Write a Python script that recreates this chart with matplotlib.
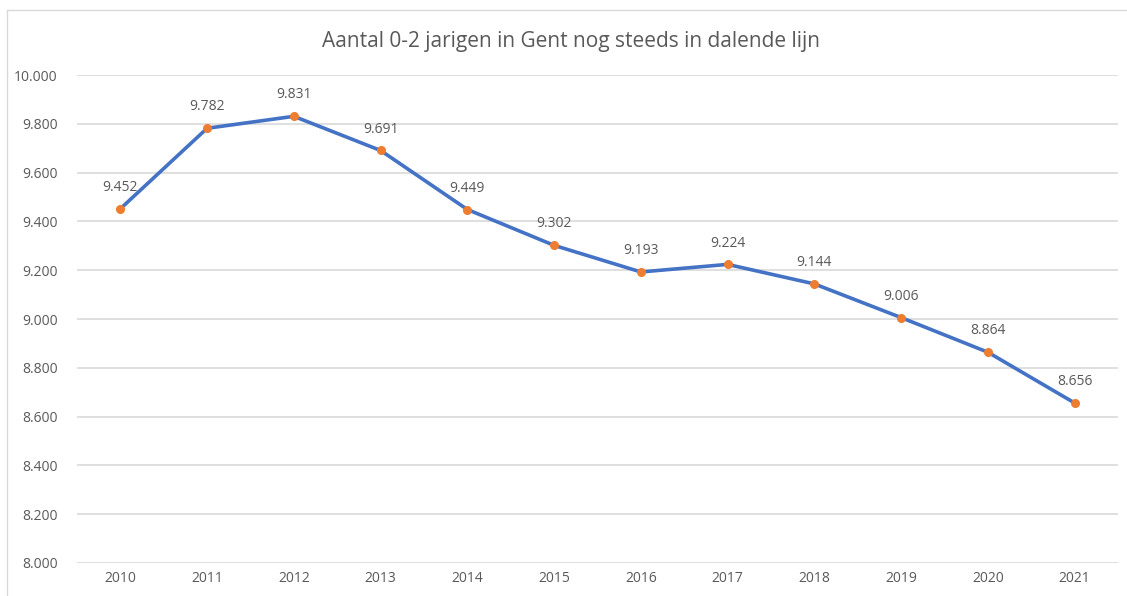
import matplotlib.pyplot as plt
from matplotlib.lines import Line2D

# gegevens
jaren = ['2010', '2011', '2012', '2013', '2014', '2015', '2016', '2017', '2018', '2019', '2020', '2021']
aantal = [9452, 9782, 9831, 9691, 9449, 9302, 9193, 9224, 9144, 9006, 8864, 8656]

def formatteer(v):
    # duizendtal met punt, zoals in het origineel
    return f'{v:,.0f}'.replace(',', '.')

plt.rcParams['font.family'] = ['Open Sans', 'DejaVu Sans']
grijs = '#595959'

fig = plt.figure(figsize=(11.27, 5.96), dpi=100)
ax = fig.add_axes([0.0683, 0.0554, 0.9237, 0.8186])

x = list(range(len(jaren)))
ax.plot(x, aantal, color='#4472C4', linewidth=2.6, zorder=3)
ax.plot(x, aantal, linestyle='none', marker='o', markersize=5.5,
        color='#ED7D31', zorder=4)

for i in range(len(aantal)):
    ax.annotate(formatteer(aantal[i]), (x[i], aantal[i]), textcoords='offset points',
                xytext=(0, 10), ha='center', va='bottom', fontsize=10, color=grijs)

ax.set_xlim(-0.5, len(jaren) - 0.5)
ax.set_ylim(8000, 10000)
ax.set_yticks(range(8000, 10001, 200))
ax.set_yticklabels([formatteer(v) for v in range(8000, 10001, 200)])
ax.set_xticks(x)
ax.set_xticklabels(jaren)
ax.tick_params(length=0, labelsize=10, labelcolor=grijs)
ax.tick_params(axis='y', pad=14)
ax.tick_params(axis='x', pad=6)
ax.grid(axis='y', color='#D9D9D9', linewidth=1.2)
ax.set_axisbelow(True)
for s in ax.spines.values():
    s.set_visible(False)

fig.text(0.507, 0.931, 'Aantal 0-2 jarigen in Gent nog steeds in dalende lijn',
         ha='center', va='center', fontsize=15, color=grijs)

# kader van de grafiek (alleen boven en links zichtbaar)
bx = 7 / 1127
by = 1 - 10 / 596
fig.add_artist(Line2D([bx, bx], [0, by], transform=fig.transFigure, color='#D9D9D9', linewidth=1))
fig.add_artist(Line2D([bx, 1], [by, by], transform=fig.transFigure, color='#D9D9D9', linewidth=1))

fig.savefig('out.png', dpi=100)
